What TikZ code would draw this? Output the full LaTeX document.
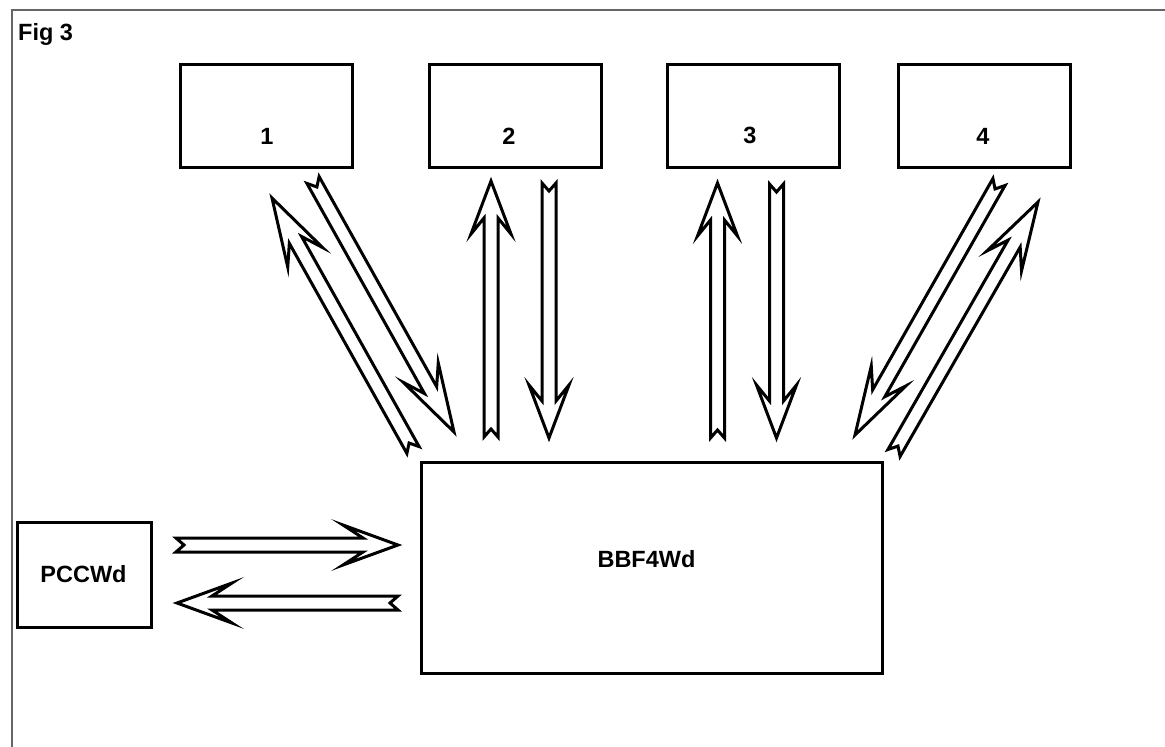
\documentclass[tikz,border=0pt]{standalone}
\usepackage{fontspec}
\setmainfont{Liberation Sans}
\usetikzlibrary{calc}

\newcommand{\blockarrow}[4]{%
	\draw[barrow] let \p1=(#1), \p2=(#2), \n1={atan2(\y2-\y1,\x2-\x1)} in
	($(\p1)+(\n1+90:7pt)$) -- ($(\p1)+(\n1:8pt)$) -- ($(\p1)+(\n1-90:7pt)$)
	-- ($(\p2)+(\n1+180:#4)+(\n1-90:7pt)$) -- ($(\p2)+(\n1+180:#3)+(\n1-90:20pt)$)
	-- (\p2) -- ($(\p2)+(\n1+180:#3)+(\n1+90:20pt)$)
	-- ($(\p2)+(\n1+180:#4)+(\n1+90:7pt)$) -- cycle;}

\begin{document}
\begin{tikzpicture}[x=1pt, y=-1pt,
	box/.style={draw, line width=3pt, inner sep=0pt},
	lbl/.style={inner sep=0pt, font=\fontsize{23.5}{28}\selectfont\bfseries},
	barrow/.style={draw, line width=3pt, fill=white},
	frame/.style={draw=black!60, line width=1.5pt}]
	\useasboundingbox (0,0) rectangle (1165,747);
	\draw[frame] (12,747) -- (12,10) -- (1165,10);
	\node[lbl, anchor=base west] (fig) at (18,40) {Fig 3};

	\node[box, minimum width=172pt, minimum height=103pt] (box1) at (266.5,115.5) {};
	\node[box, minimum width=172pt, minimum height=103pt] (box2) at (515,115.5) {};
	\node[box, minimum width=172pt, minimum height=103pt] (box3) at (753,115.5) {};
	\node[box, minimum width=172pt, minimum height=103pt] (box4) at (984,115.5) {};
	\node[lbl] (lbl1) at (267,136.5) {1};
	\node[lbl] (lbl2) at (509,136.5) {2};
	\node[lbl] (lbl3) at (750,135) {3};
	\node[lbl] (lbl4) at (983,136.5) {4};

	\node[box, minimum width=461pt, minimum height=211pt] (bbf) at (651.5,567.5) {};
	\node[lbl] at (646.5,559) {BBF4Wd};
	\node[box, minimum width=134pt, minimum height=105pt] (pcc) at (84,574.5) {};
	\node[lbl] at (83.5,574.5) {PCCWd};

	\coordinate (up1-tail) at (413,450);   \coordinate (up1-tip) at (272,198);
	\coordinate (dn1-tail) at (313,180);   \coordinate (dn1-tip) at (454,432);
	\coordinate (up2-tail) at (491,437);   \coordinate (up2-tip) at (491,181);
	\coordinate (dn2-tail) at (549,183);   \coordinate (dn2-tip) at (549,438);
	\coordinate (up3-tail) at (717.5,438); \coordinate (up3-tip) at (717.5,183);
	\coordinate (dn3-tail) at (776.5,184); \coordinate (dn3-tip) at (776.5,438);
	\coordinate (dn4-tail) at (999,182);   \coordinate (dn4-tip) at (855,435);
	\coordinate (up4-tail) at (894,453);   \coordinate (up4-tip) at (1038,202);
	\coordinate (in-tail) at (176,545);    \coordinate (in-tip) at (398,545);
	\coordinate (out-tail) at (398,603);   \coordinate (out-tip) at (177,603);

	\blockarrow{up1-tail}{up1-tip}{68pt}{48pt}
	\blockarrow{dn1-tail}{dn1-tip}{68pt}{48pt}
	\blockarrow{up2-tail}{up2-tip}{53pt}{37pt}
	\blockarrow{dn2-tail}{dn2-tip}{53pt}{37pt}
	\blockarrow{up3-tail}{up3-tip}{53pt}{37pt}
	\blockarrow{dn3-tail}{dn3-tip}{53pt}{37pt}
	\blockarrow{dn4-tail}{dn4-tip}{68pt}{48pt}
	\blockarrow{up4-tail}{up4-tip}{68pt}{48pt}
	\blockarrow{in-tail}{in-tip}{55pt}{35pt}
	\blockarrow{out-tail}{out-tip}{55pt}{35pt}
\end{tikzpicture}
\end{document}
